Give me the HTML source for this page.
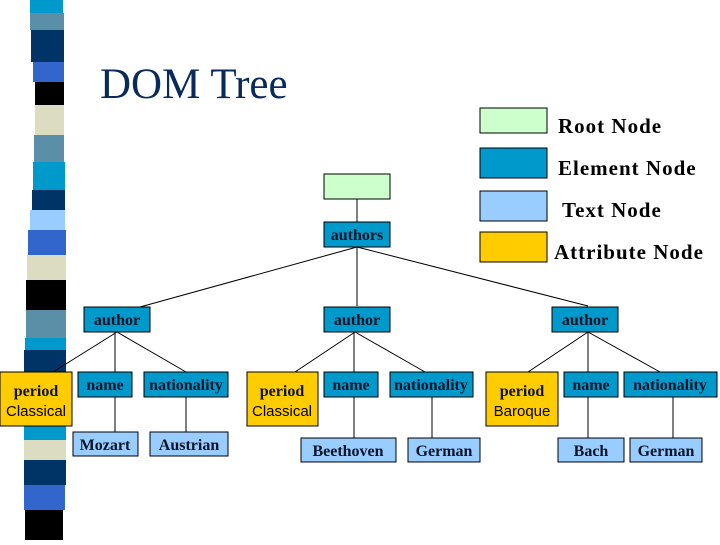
<!DOCTYPE html>
<html><head><style>
body{margin:0;width:720px;height:540px;background:#fff;overflow:hidden}
</style></head><body>
<svg width="720" height="540" xmlns="http://www.w3.org/2000/svg">
<g>
<rect x="30" y="0" width="33" height="13" fill="#0099cc"/>
<rect x="30" y="13" width="34" height="17" fill="#5b8fa8"/>
<rect x="31" y="30" width="33" height="32" fill="#003366"/>
<rect x="33" y="62" width="31" height="20" fill="#3366cc"/>
<rect x="35" y="82" width="29" height="23" fill="#000"/>
<rect x="35" y="105" width="29" height="30" fill="#dcdcc0"/>
<rect x="34" y="135" width="30" height="27" fill="#5b8fa8"/>
<rect x="33" y="162" width="32" height="28" fill="#0099cc"/>
<rect x="32" y="190" width="33" height="20" fill="#003366"/>
<rect x="30" y="210" width="35" height="20" fill="#99ccff"/>
<rect x="28" y="230" width="38" height="25" fill="#3366cc"/>
<rect x="27" y="255" width="39" height="25" fill="#dcdcc0"/>
<rect x="26" y="280" width="40" height="30" fill="#000"/>
<rect x="26" y="310" width="40" height="28" fill="#5b8fa8"/>
<rect x="25" y="338" width="41" height="12" fill="#0099cc"/>
<rect x="24" y="350" width="42" height="65" fill="#003366"/>
<rect x="24" y="415" width="42" height="25" fill="#0099cc"/>
<rect x="24" y="440" width="42" height="20" fill="#dcdcc0"/>
<rect x="24" y="460" width="42" height="25" fill="#003366"/>
<rect x="24" y="485" width="41" height="25" fill="#3366cc"/>
<rect x="25" y="510" width="38" height="30" fill="#000"/>
</g>
<text x="100" y="98" font-family="Liberation Serif" font-size="43" fill="#0a2a5a">DOM Tree</text>
<g stroke="#000" stroke-width="1">
<rect x="480" y="108" width="67" height="25" fill="#ccffcc"/>
<rect x="480" y="148" width="67" height="30" fill="#0099cc"/>
<rect x="480" y="191" width="67" height="30" fill="#99ccff"/>
<rect x="480" y="232" width="67" height="30" fill="#ffcc00"/>
</g>
<g font-family="Liberation Serif" font-weight="bold" font-size="21" fill="#000" letter-spacing="1">
<text x="558" y="133">Root Node</text>
<text x="558" y="175">Element Node</text>
<text x="562" y="217">Text Node</text>
<text x="554" y="259">Attribute Node</text>
</g>
<g stroke="#000" stroke-width="1" fill="none">
<line x1="357" y1="199" x2="357" y2="222"/>
<line x1="357" y1="247" x2="140" y2="307"/>
<line x1="357" y1="247" x2="357" y2="306"/>
<line x1="357" y1="247" x2="588" y2="306"/>
<line x1="117" y1="332" x2="53" y2="372"/>
<line x1="115" y1="332" x2="115" y2="372"/>
<line x1="117" y1="332" x2="186" y2="372"/>
<line x1="115" y1="397" x2="115" y2="432"/>
<line x1="186" y1="397" x2="186" y2="432"/>
<line x1="355" y1="332" x2="295" y2="372"/>
<line x1="354" y1="332" x2="354" y2="438"/>
<line x1="355" y1="332" x2="425" y2="372"/>
<line x1="432" y1="397" x2="432" y2="438"/>
<line x1="588" y1="332" x2="528" y2="372"/>
<line x1="588" y1="332" x2="588" y2="438"/>
<line x1="588" y1="332" x2="660" y2="372"/>
<line x1="673" y1="397" x2="673" y2="438"/>
</g>
<g stroke="#000" stroke-width="1">
<rect x="324" y="174" width="66" height="25" fill="#ccffcc"/>
<rect x="324" y="222" width="66" height="25" fill="#0099cc"/>
<rect x="84" y="307" width="66" height="25" fill="#0099cc"/>
<rect x="324" y="307" width="66" height="25" fill="#0099cc"/>
<rect x="552" y="307" width="66" height="25" fill="#0099cc"/>
<rect x="0" y="372" width="72" height="54" fill="#ffcc00"/>
<rect x="78" y="372" width="54" height="25" fill="#0099cc"/>
<rect x="144" y="372" width="84" height="25" fill="#0099cc"/>
<rect x="73" y="432" width="65" height="24" fill="#99ccff"/>
<rect x="150" y="432" width="78" height="24" fill="#99ccff"/>
<rect x="247" y="372" width="71" height="54" fill="#ffcc00"/>
<rect x="324" y="372" width="54" height="25" fill="#0099cc"/>
<rect x="390" y="372" width="83" height="25" fill="#0099cc"/>
<rect x="301" y="438" width="95" height="24" fill="#99ccff"/>
<rect x="408" y="438" width="72" height="24" fill="#99ccff"/>
<rect x="486" y="372" width="72" height="54" fill="#ffcc00"/>
<rect x="564" y="372" width="54" height="25" fill="#0099cc"/>
<rect x="624" y="372" width="93" height="25" fill="#0099cc"/>
<rect x="558" y="438" width="66" height="24" fill="#99ccff"/>
<rect x="630" y="438" width="72" height="24" fill="#99ccff"/>
</g>
<g font-family="Liberation Serif" font-weight="bold" font-size="16" fill="#0a1426" text-anchor="middle">
<text x="357" y="240">authors</text>
<text x="117" y="325">author</text>
<text x="357" y="325">author</text>
<text x="585" y="325">author</text>
<text x="105" y="390">name</text>
<text x="186" y="390">nationality</text>
<text x="105" y="450">Mozart</text>
<text x="189" y="450">Austrian</text>
<text x="351" y="390">name</text>
<text x="431" y="390">nationality</text>
<text x="348" y="456">Beethoven</text>
<text x="444" y="456">German</text>
<text x="591" y="390">name</text>
<text x="670" y="390">nationality</text>
<text x="591" y="456">Bach</text>
<text x="666" y="456">German</text>
<text x="36" y="396">period</text>
<text x="282" y="396">period</text>
<text x="522" y="396">period</text>
</g>
<g font-family="Liberation Sans" font-size="15" fill="#000" text-anchor="middle">
<text x="36" y="416">Classical</text>
<text x="282" y="416">Classical</text>
<text x="522" y="416">Baroque</text>
</g>
</svg>
</body></html>
